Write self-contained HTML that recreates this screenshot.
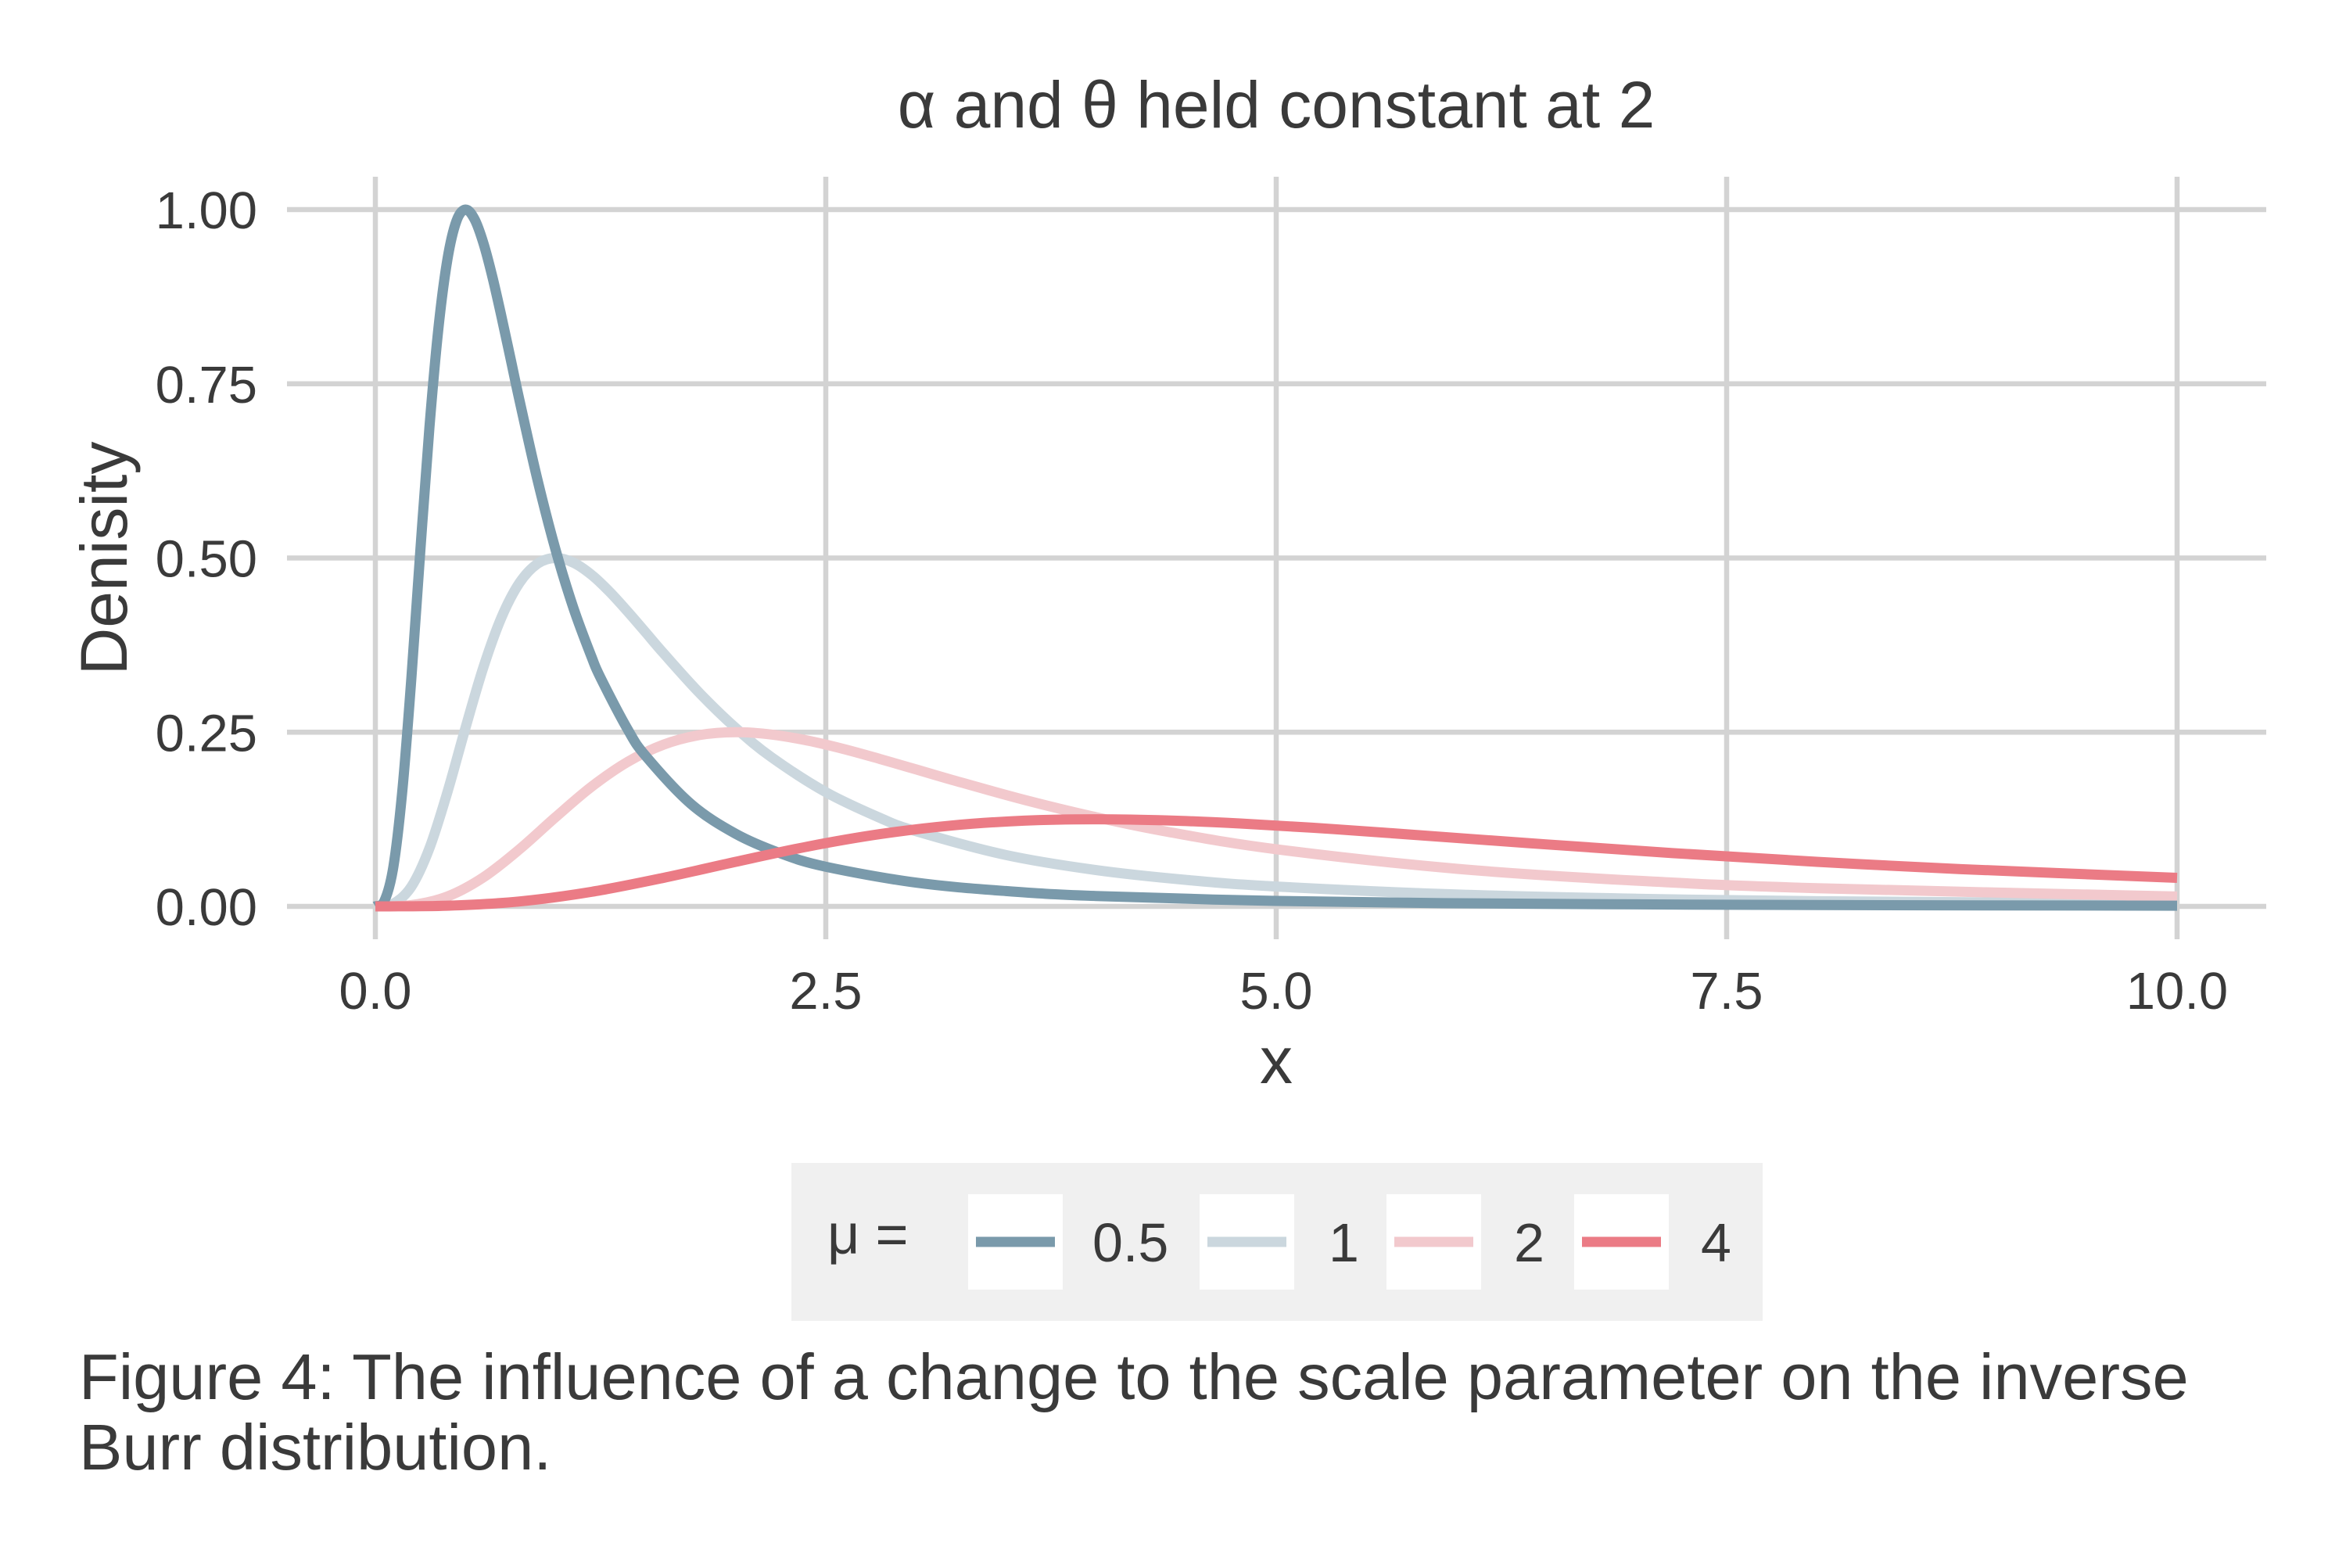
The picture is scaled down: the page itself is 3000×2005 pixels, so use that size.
<!DOCTYPE html>
<html><head><meta charset="utf-8"><style>
html,body{margin:0;padding:0;background:#fff;}
body{width:3000px;height:2000px;overflow:hidden;font-family:"Liberation Sans",sans-serif;}
svg text{font-family:"Liberation Sans","DejaVu Sans",sans-serif;fill:#3a3a3a;}
</style></head><body>
<svg id="chart" width="3000" height="2000" viewBox="0 0 3000 2000" xmlns="http://www.w3.org/2000/svg">
<text x="1632" y="163" font-size="84" text-anchor="middle">α and θ held constant at 2</text>
<g id="grid"></g>
<g id="yticks"></g>
<g id="xticks"></g>
<g id="series"></g>
<text transform="translate(162,714) rotate(-90)" font-size="84" text-anchor="middle">Denisity</text>
<text x="1632" y="1385" font-size="84" text-anchor="middle">x</text>
<g>
<rect x="1012" y="1487" width="1242" height="202" fill="#f0f0f0"/>
<text x="1058" y="1603" font-size="72">μ =</text>
<g id="legend-items"></g>
</g>
<text x="101" y="1789" font-size="83">Figure 4: The influence of a change to the scale parameter on the inverse</text>
<text x="101" y="1879" font-size="83">Burr distribution.</text>
</svg>
<script>
const yTicks=[0,0.25,0.5,0.75,1];
const yTickLabels=["0.00","0.25","0.50","0.75","1.00"];
const xTicks=[0,2.5,5,7.5,10];
const xTickLabels=["0.0","2.5","5.0","7.5","10.0"];
const seriesNames=["0.5","1","2","4"];
const seriesColors=["#7a9aab","#cbd7de","#f2c9cd","#eb7b85"];
const x05=[0,0.05,0.1,0.15,0.2,0.25,0.3,0.35,0.4,0.45,0.5,0.55,0.6,0.65,0.7,0.75,0.8,0.9,1.0,1.1,1.2,1.25,1.4,1.5,1.75,2,2.25,2.5,3,3.5,4,5,6,7,8,10];
const y05=[0,0.0078,0.0568,0.1668,0.328,0.512,0.687,0.8296,0.9286,0.9836,1,0.9864,0.9516,0.903,0.8464,0.7866,0.7262,0.612,0.512,0.4277,0.358,0.328,0.2542,0.216,0.1474,0.1042,0.076,0.0569,0.0341,0.0220,0.0149,0.0078,0.0045,0.0029,0.0019,0.0010];
const x1=[0,0.1,0.2,0.3,0.4,0.5,0.6,0.7,0.8,0.9,1.0,1.1,1.2,1.3,1.4,1.5,1.6,1.8,2.0,2.2,2.5,2.8,3,3.5,4,4.5,5,6,7,8,10];
const y1=[0,0.0039,0.0284,0.0834,0.164,0.256,0.3435,0.4148,0.4643,0.4918,0.5,0.4932,0.4758,0.4515,0.4232,0.3933,0.3631,0.306,0.256,0.2138,0.164,0.1271,0.108,0.0737,0.0521,0.038,0.0285,0.0171,0.0110,0.0075,0.0039];
const x2=[0,0.2,0.4,0.6,0.8,1.0,1.2,1.4,1.6,1.8,2.0,2.2,2.4,2.6,2.8,3.0,3.2,3.6,4,4.4,5,6,7,8,10];
const y2=[0,0.0019,0.0142,0.0417,0.082,0.128,0.1718,0.2074,0.2322,0.2459,0.25,0.2466,0.2379,0.2258,0.2116,0.1967,0.1816,0.153,0.128,0.1069,0.082,0.054,0.0369,0.0261,0.0142];
const x4=[0,0.4,0.8,1.2,1.6,2.0,2.4,2.8,3.2,3.6,4.0,4.4,4.8,5.2,5.6,6.4,7.2,8,8.8,10];
const y4=[0,0.001,0.0071,0.0209,0.041,0.064,0.0859,0.1037,0.1161,0.123,0.125,0.1233,0.119,0.1129,0.1058,0.0908,0.0765,0.064,0.0535,0.041];
const seriesX=[x05,x1,x2,x4];
const seriesY=[y05,y1,y2,y4];

const X0=480,X1=2784,Y0=1159,Y1=268;
function sx(v){return X0+(X1-X0)*v/10;}
function sy(v){return Y0-(Y0-Y1)*v;}
const NS="http://www.w3.org/2000/svg";
function mk(tag,attrs,parent){const e=document.createElementNS(NS,tag);for(const k in attrs)e.setAttribute(k,attrs[k]);parent.appendChild(e);return e;}
const grid=document.getElementById('grid');
yTicks.forEach((t,i)=>{
  const l=mk('line',{x1:367,x2:2898,y1:sy(t),y2:sy(t),stroke:'#d3d3d3','stroke-width':6.5},grid);
  
  
  const tx=mk('text',{x:329,y:sy(t)+24,'font-size':67,'text-anchor':'end'},document.getElementById('yticks'));
  tx.textContent=yTickLabels[i];
  
  
});
xTicks.forEach((t,i)=>{
  const l=mk('line',{x1:sx(t),x2:sx(t),y1:226,y2:1201,stroke:'#d3d3d3','stroke-width':6.5},grid);
  
  
  const tx=mk('text',{x:sx(t),y:1290,'font-size':67,'text-anchor':'middle'},document.getElementById('xticks'));
  tx.textContent=xTickLabels[i];
  
  
});
const sg=document.getElementById('series');
function smoothPath(xs,ys){
  const p=xs.map((x,i)=>[sx(x),sy(ys[i])]);
  let d='M'+p[0][0]+','+p[0][1];
  for(let i=0;i<p.length-1;i++){
    const a=p[Math.max(0,i-1)],b=p[i],c=p[i+1],e=p[Math.min(p.length-1,i+2)];
    const c1x=b[0]+(c[0]-a[0])/6,c1y=b[1]+(c[1]-a[1])/6;
    const c2x=c[0]-(e[0]-b[0])/6,c2y=c[1]-(e[1]-b[1])/6;
    d+=' C'+c1x+','+c1y+' '+c2x+','+c2y+' '+c[0]+','+c[1];
  }
  return d;
}
[1,2,0,3].forEach(i=>{
  const p=mk('path',{d:smoothPath(seriesX[i],seriesY[i]),fill:'none',stroke:seriesColors[i],'stroke-width':13,'stroke-linejoin':'round'},sg);
  
  
});
const lg=document.getElementById('legend-items');
const keyX=[1238,1534,1773,2013];
const labelX=[1397,1699,1936,2175];
seriesNames.forEach((n,i)=>{
  const r=mk('rect',{x:keyX[i],y:1527,width:121,height:122,fill:'#fff'},lg);
  
  
  const l=mk('line',{x1:keyX[i]+10,x2:keyX[i]+111,y1:1588,y2:1588,stroke:seriesColors[i],'stroke-width':13},lg);
  
  
  const t=mk('text',{x:labelX[i],y:1613,'font-size':70},lg);
  t.textContent=n;
  
  
});
</script>
</body></html>
